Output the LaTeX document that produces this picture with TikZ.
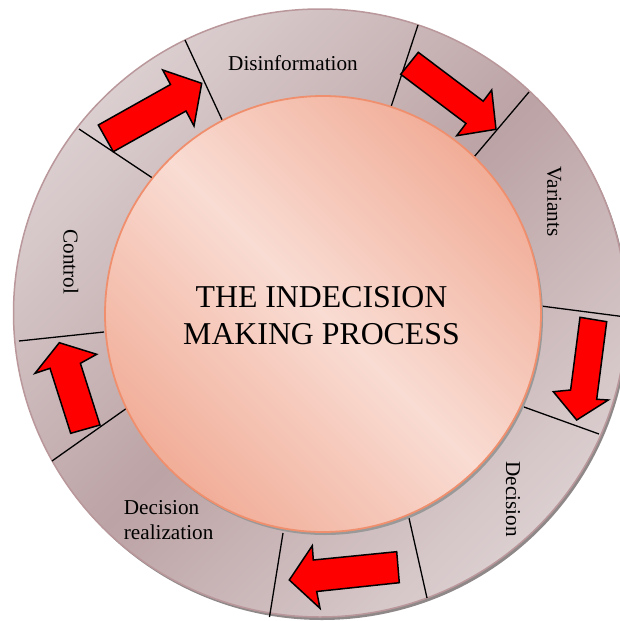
\documentclass[tikz,border=0pt]{standalone}
\usepackage{fontspec}
\setmainfont{Liberation Serif}

\definecolor{ringlight}{HTML}{E8E0E1}
\definecolor{ringdark}{HTML}{BCA3A5}
\definecolor{ringedge}{HTML}{B9979A}
\definecolor{corelight}{HTML}{F9DCD3}
\definecolor{coredark}{HTML}{EE9B81}
\definecolor{coreedge}{HTML}{F08F6D}

\pgfdeclarehorizontalshading{ringshade}{100bp}{color(0bp)=(ringlight); color(15bp)=(ringlight); color(50bp)=(ringdark); color(85bp)=(ringlight); color(100bp)=(ringlight)}
\pgfdeclarehorizontalshading{coreshade}{100bp}{color(0bp)=(coredark); color(15bp)=(coredark); color(50bp)=(corelight); color(85bp)=(coredark); color(100bp)=(coredark)}

\tikzset{
	divider/.style={draw=black, line width=1.3pt},
	redarrow/.style={fill=red, draw=black, line width=1.5pt, line join=miter},
	seglabel/.style={inner sep=0pt, font=\fontsize{21.2}{24.5}\selectfont},
}

\begin{document}
\begin{tikzpicture}[x=1pt, y=-1pt]
	\useasboundingbox (0,0) rectangle (620,621); % Rand wie im Original

	% Ring
	\fill[gray!75!ringdark] (322,316) ellipse [x radius=306.5, y radius=304];
	\shade[shading=ringshade, shading angle=-45] (320,313) ellipse [x radius=306.5, y radius=304];
	\draw[ringedge, line width=1.5pt] (320,313) ellipse [x radius=306.5, y radius=304];

	% Trennlinien
	\draw[divider] (79,129) -- (154,179);
	\draw[divider] (185,40) -- (224,124);
	\draw[divider] (418,25) -- (389,113);
	\draw[divider] (529,92) -- (474,157);
	\draw[divider] (541,306) -- (626,317);
	\draw[divider] (524,407) -- (599,434);
	\draw[divider] (409,518) -- (427,598);
	\draw[divider] (283,533) -- (269.5,617);
	\draw[divider] (127,408) -- (52,461);
	\draw[divider] (19,341) -- (104,332);

	% Kreis in der Mitte
	\fill[gray!80] (325,317) circle [radius=218];
	\shade[shading=coreshade, shading angle=45] (323,314) circle [radius=218];
	\draw[coreedge, line width=1.8pt] (323,314) circle [radius=218];
	\node[inner sep=0pt, align=center, font=\fontsize{31.8}{36.7}\selectfont] (title) at (321.5,315.8) {THE INDECISION\\MAKING PROCESS};

	% Pfeile
	\filldraw[redarrow] (98.3,125) -- (170.5,84.5) -- (162.7,70) -- (201.7,83.3) -- (194,126) -- (186,111) -- (113.3,151.7) -- cycle;
	\filldraw[redarrow] (418.3,52.3) -- (483.2,101.2) -- (491.7,90) -- (496,129.3) -- (456.7,135.7) -- (466,123.5) -- (400.7,74.3) -- cycle;
	\filldraw[redarrow] (580,317.3) -- (606.7,321.7) -- (596.7,399.3) -- (608.3,400) -- (576.7,420) -- (553.3,391.7) -- (570.6,390) -- cycle;
	\filldraw[redarrow] (396.7,551.7) -- (313.3,560) -- (312.3,545.7) -- (289.3,580) -- (320,608.3) -- (316.7,591.5) -- (399.3,582.7) -- cycle;
	\filldraw[redarrow] (70.7,433.3) -- (50,368.3) -- (35,373.3) -- (59.3,342.7) -- (96.7,354.3) -- (80.4,363.3) -- (100,425) -- cycle;

	% Beschriftung
	\node[seglabel, anchor=base] (disinfo) at (293,70.4) {Disinformation};
	\node[seglabel, rotate=-90] (variants) at (554.3,201.5) {Variants};
	\node[seglabel, rotate=-90] (decision) at (513,499) {Decision};
	\node[seglabel, align=left, anchor=north west] (realization) at (123.7,500.5) {Decision\\realization};
	\node[seglabel, rotate=-90] (control) at (71,262) {Control};

	%\draw[help lines, step=50] (0,0) grid (620,621);
\end{tikzpicture}
\end{document}
